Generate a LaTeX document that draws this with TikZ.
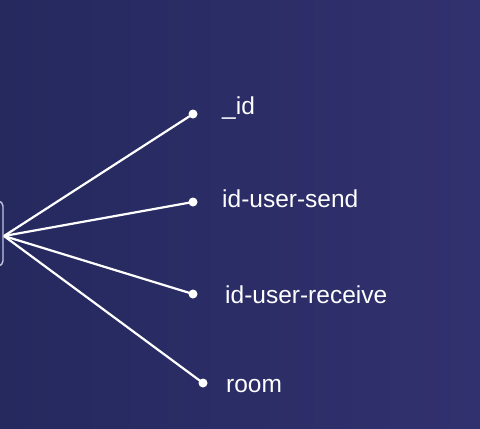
\documentclass[tikz,border=0pt]{standalone}
\usepackage{fontspec}
\setmainfont{Liberation Sans}
\definecolor{bgA}{HTML}{25295E}
\definecolor{bgB}{HTML}{32316F}
\definecolor{boxline}{HTML}{C4C4E0}
\begin{document}
\begin{tikzpicture}[x=1pt,y=-1pt,
  conn/.style={draw=white,line width=2.2pt},
  enddot/.style={circle,fill=white,inner sep=0pt,minimum size=9pt},
  lbl/.style={anchor=base west,text=white,inner sep=0pt,font=\fontsize{24.5}{29}\selectfont}]
\shade[left color=bgA,right color=bgB] (0,0) rectangle (480,429);
\useasboundingbox (0,0) rectangle (480,429);
\draw[boxline,line width=1.4pt,rounded corners=5pt] (-20,201) -- (3,201) -- (3,266) -- (-20,266);
\coordinate (hub) at (4,236);
\node[enddot] (d1) at (193,114) {};
\node[enddot] (d2) at (193,202) {};
\node[enddot] (d3) at (193,294) {};
\node[enddot] (d4) at (203,383) {};
\draw[conn] (hub) -- (d1.center);
\draw[conn] (hub) -- (d2.center);
\draw[conn] (hub) -- (d3.center);
\draw[conn] (hub) -- (d4.center);
\node[lbl] (t1) at (222,114) {\_id};
\node[lbl] (t2) at (222,207) {id-user-send};
\node[lbl] (t3) at (225,303) {id-user-receive};
\node[lbl] (t4) at (226,392) {room};
\end{tikzpicture}
\end{document}
